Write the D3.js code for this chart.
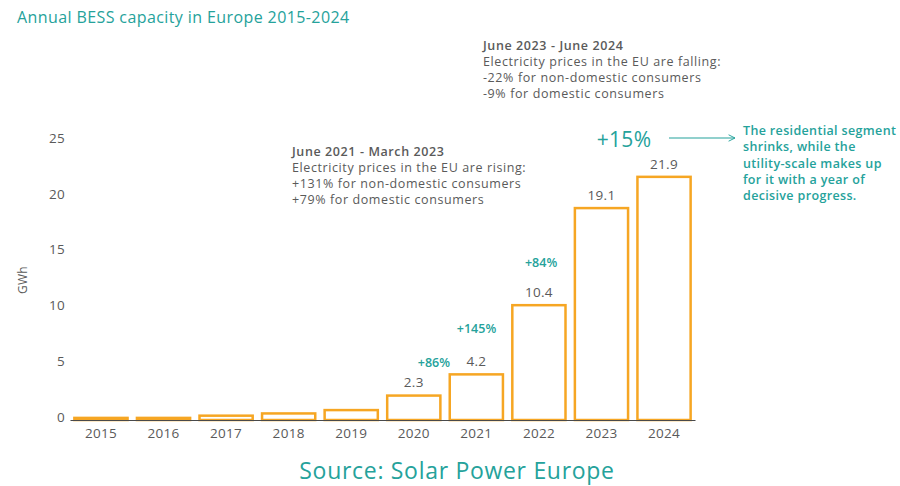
<!DOCTYPE html>
<html>
<head>
<meta charset="utf-8">
<script src="https://cdn.jsdelivr.net/npm/d3@7"></script>
<style>
  html, body { margin: 0; padding: 0; background: #fff; }
  svg { display: block; font-family: "Open Sans", "Noto Sans", sans-serif; }
</style>
</head>
<body>
<svg id="chart" width="900" height="486"></svg>
<script>
// Annual battery energy storage (BESS) installations in Europe, GWh
const years = ["2015", "2016", "2017", "2018", "2019", "2020", "2021", "2022", "2023", "2024"];
const capacity = [0.3, 0.3, 0.5, 0.7, 1.0, 2.3, 4.2, 10.4, 19.1, 21.9];
const valueLabels = ["", "", "", "", "", "2.3", "4.2", "10.4", "19.1", "21.9"];
const growthYears = ["2020", "2021", "2022"];
const growthLabels = ["+86%", "+145%", "+84%"];
const yTicks = [0, 5, 10, 15, 20, 25];

const teal = "#25a29b";
const grey = "#5a5a5a";
const orange = "#f6a623";

const svg = d3.select("#chart");

const x = d3.scaleBand()
  .domain(years)
  .range([70, 695])
  .paddingInner(0.11)
  .paddingOuter(0.05);

const y = d3.scaleLinear()
  .domain([0, 25])
  .range([420, 141]);

// title
svg.append("text")
  .attr("x", 17).attr("y", 23)
  .attr("fill", teal)
  .attr("font-size", 16)
  .attr("letter-spacing", 0.4)
  .text("Annual BESS capacity in Europe 2015-2024");

// y axis (labels only)
const yAxis = d3.axisLeft(y).tickValues(yTicks).tickSize(0).tickPadding(0);
const gy = svg.append("g").attr("transform", "translate(65,0)").call(yAxis);
gy.select(".domain").remove();
gy.selectAll("text")
  .attr("fill", grey)
  .attr("font-size", 13.5)
  .attr("letter-spacing", 0.3)
  .attr("font-family", "Open Sans, sans-serif")
  .attr("dy", "0.1em");

svg.append("text")
  .attr("transform", "translate(27,280) rotate(-90)")
  .attr("text-anchor", "middle")
  .attr("fill", grey)
  .attr("font-size", 12)
  .attr("letter-spacing", 0.3)
  .text("GWh");

// bars
svg.append("g").selectAll("rect")
  .data(years)
  .join("rect")
  .attr("x", d => x(d) + 1.25)
  .attr("width", x.bandwidth() - 2.5)
  .attr("y", (d, i) => y(capacity[i]) + 1.25)
  .attr("height", (d, i) => Math.max(0, y(0) - y(capacity[i]) - 1.25))
  .attr("fill", "#fff")
  .attr("stroke", orange)
  .attr("stroke-width", 2.5);

// x axis
const xAxis = d3.axisBottom(x).tickSize(0).tickPadding(8);
const gx = svg.append("g").attr("transform", "translate(0,420)").call(xAxis);
gx.select(".domain").attr("stroke", "#4a4a4a").attr("stroke-width", 1.2);
gx.selectAll("text")
  .attr("fill", grey)
  .attr("font-size", 13.5)
  .attr("letter-spacing", 0.3)
  .attr("font-family", "Open Sans, sans-serif");

// value labels
svg.append("g").selectAll("text")
  .data(years.filter((d, i) => valueLabels[i]))
  .join("text")
  .attr("x", d => x(d) + x.bandwidth() / 2)
  .attr("y", d => y(capacity[years.indexOf(d)]) - 7)
  .attr("text-anchor", "middle")
  .attr("fill", grey)
  .attr("font-size", 13.5)
  .attr("letter-spacing", 0.3)
  .text(d => valueLabels[years.indexOf(d)]);

// year-on-year growth labels
const growthOffsets = [[48, -27], [28, -40], [30, -37]];
svg.append("g").selectAll("text")
  .data(growthYears)
  .join("text")
  .attr("x", (d, i) => x(d) + growthOffsets[i][0])
  .attr("y", (d, i) => y(capacity[years.indexOf(d)]) + growthOffsets[i][1])
  .attr("text-anchor", "middle")
  .attr("fill", teal)
  .attr("font-size", 12.5)
  .attr("font-weight", 600)
  .text((d, i) => growthLabels[i]);

svg.append("text")
  .attr("x", 624).attr("y", 147)
  .attr("text-anchor", "middle")
  .attr("fill", teal)
  .attr("font-size", 21)
  .attr("letter-spacing", 0.3)
  .text("+15%");

// arrow
svg.append("defs").append("marker")
  .attr("id", "arrowhead")
  .attr("viewBox", "0 0 10 10")
  .attr("refX", 9).attr("refY", 5)
  .attr("markerWidth", 8).attr("markerHeight", 8)
  .attr("markerUnits", "userSpaceOnUse")
  .attr("orient", "auto")
  .append("path")
  .attr("d", "M1,1 L9,5 L1,9")
  .attr("fill", "none")
  .attr("stroke", teal)
  .attr("stroke-width", 1.2);

svg.append("line")
  .attr("x1", 669).attr("x2", 735)
  .attr("y1", 138).attr("y2", 138)
  .attr("stroke", teal)
  .attr("stroke-width", 1.2)
  .attr("marker-end", "url(#arrowhead)");

// annotation blocks, one text element per line
function textBlock(x0, y0, lines, opts) {
  svg.append("g").selectAll("text")
    .data(lines)
    .join("text")
    .attr("x", x0)
    .attr("y", (d, i) => y0 + i * opts.lh)
    .attr("fill", opts.color)
    .attr("font-size", opts.size)
    .attr("letter-spacing", opts.ls)
    .attr("font-weight", (d, i) => (opts.boldFirst && i === 0) || opts.bold ? 600 : 400)
    .text(d => d);
}

textBlock(292, 156, [
  "June 2021 - March 2023",
  "Electricity prices in the EU are rising:",
  "+131% for non-domestic consumers",
  "+79% for domestic consumers"
], { color: grey, size: 12.5, lh: 16, ls: 0.6, boldFirst: true });

textBlock(483, 50, [
  "June 2023 - June 2024",
  "Electricity prices in the EU are falling:",
  "-22% for non-domestic consumers",
  "-9% for domestic consumers"
], { color: grey, size: 12.5, lh: 16, ls: 0.6, boldFirst: true });

textBlock(743, 135, [
  "The residential segment",
  "shrinks, while the",
  "utility-scale makes up",
  "for it with a year of",
  "decisive progress."
], { color: teal, size: 12.5, lh: 16.3, ls: 0.35, bold: true });

// source
svg.append("text")
  .attr("x", 457).attr("y", 479)
  .attr("text-anchor", "middle")
  .attr("fill", teal)
  .attr("font-size", 23)
  .attr("letter-spacing", 0.7)
  .text("Source: Solar Power Europe");
</script>
</body>
</html>
